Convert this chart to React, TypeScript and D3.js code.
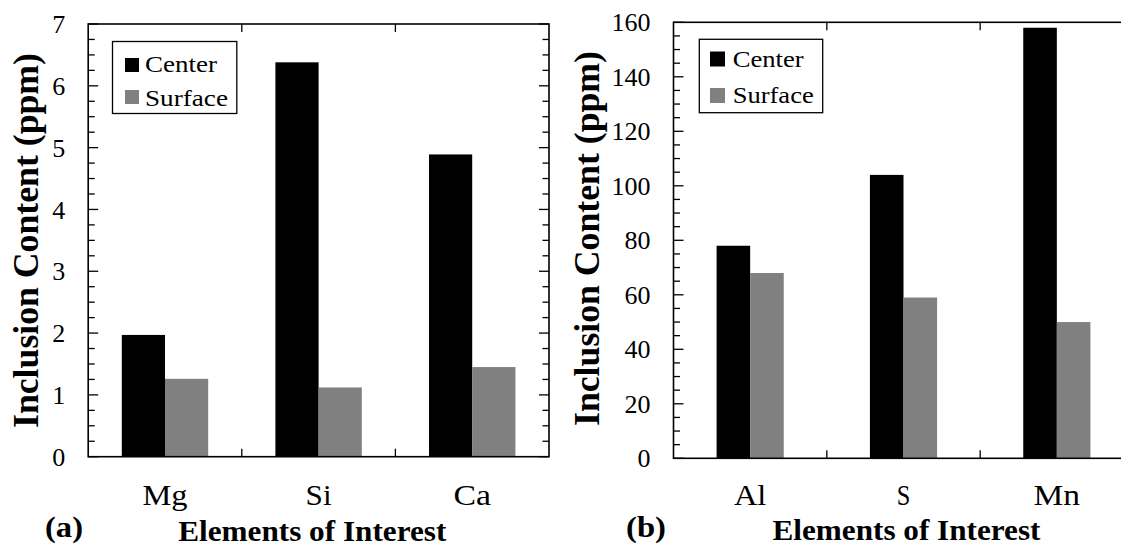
import React from "react";
import * as d3 from "d3";

// Panel (a): light elements
const elementsA = ["Mg", "Si", "Ca"];
const centerA = [1.97, 6.38, 4.89];
const surfaceA = [1.26, 1.12, 1.45];
const ticksA = [0, 1, 2, 3, 4, 5, 6, 7];

// Panel (b): heavier elements
const elementsB = ["Al", "S", "Mn"];
const centerB = [78, 104, 158];
const surfaceB = [68, 59, 50];
const ticksB = [0, 20, 40, 60, 80, 100, 120, 140, 160];

const seriesNames = ["Center", "Surface"];
const seriesColors = ["#000000", "#808080"];

const SERIF = "Liberation Serif, Times New Roman, Times, serif";

type PanelProps = {
  tag: string;
  categories: string[];
  center: number[];
  surface: number[];
  ticks: number[];
  yMax: number;
  minorStep: number;
  x0: number;
  x1: number;
  yTop: number;
  yBottom: number;
  groupFrac: number;
  labelWidths: number[];
  legend: {
    x: number; y: number; w: number; h: number;
    swX: number; swSize: number; swY: number[];
    textX: number; baseY: number[]; textW: number[];
  };
  yTitleX: number;
  yTitleY: number;
  tagX: number;
  tagW: number;
  xTitleX: number;
  xTitleBase: number;
};

function Panel(p: PanelProps) {
  const x = d3.scaleBand<string>().domain(p.categories).range([p.x0, p.x1]).padding(0);
  const bw = x.bandwidth();
  const off = (bw * (1 - p.groupFrac)) / 2;
  const xs = d3.scaleBand<string>().domain(seriesNames).range([off, bw - off]).padding(0);
  const y = d3.scaleLinear().domain([0, p.yMax]).range([p.yBottom, p.yTop]);
  const minor = d3.range(0, p.yMax + 1e-9, p.minorStep);
  const series = [p.center, p.surface];
  const boundaries = p.categories.slice(1).map((c) => x(c) as number);

  return (
    <g>
      {/* bars */}
      {p.categories.map((c, i) => (
        <g key={c} transform={`translate(${x(c)},0)`}>
          {seriesNames.map((s, k) => (
            <rect
              key={s}
              x={xs(s)}
              y={y(series[k][i])}
              width={xs.bandwidth()}
              height={y(0) - y(series[k][i])}
              fill={seriesColors[k]}
            />
          ))}
        </g>
      ))}
      {/* frame */}
      <rect x={p.x0} y={p.yTop} width={p.x1 - p.x0} height={p.yBottom - p.yTop}
        fill="none" stroke="#000" strokeWidth={1.6} />
      {/* y ticks on both sides, pointing inward */}
      {minor.map((v) => {
        const major = p.ticks.includes(Math.round(v * 1000) / 1000);
        const len = major ? 10 : 6.5;
        return (
          <g key={v}>
            <line x1={p.x0} x2={p.x0 + len} y1={y(v)} y2={y(v)} stroke="#000" strokeWidth={1.3} />
            <line x1={p.x1} x2={p.x1 - len} y1={y(v)} y2={y(v)} stroke="#000" strokeWidth={1.3} />
          </g>
        );
      })}
      {/* category boundary ticks */}
      {boundaries.map((bx) => (
        <g key={bx}>
          <line x1={bx} x2={bx} y1={p.yBottom} y2={p.yBottom - 8} stroke="#000" strokeWidth={1.3} />
          <line x1={bx} x2={bx} y1={p.yTop} y2={p.yTop + 8} stroke="#000" strokeWidth={1.3} />
        </g>
      ))}
      {/* y tick labels */}
      {p.ticks.map((t) => (
        <text key={t} x={p.x0 - 23} y={y(t)} dy="0.35em" textAnchor="end"
          fontFamily={SERIF} fontSize={26} fill="#000">{t}</text>
      ))}
      {/* category labels */}
      {p.categories.map((c, i) => (
        <text key={c} x={(x(c) as number) + bw / 2 - p.labelWidths[i] / 2} y={505}
          textLength={p.labelWidths[i]} lengthAdjust="spacingAndGlyphs"
          fontFamily={SERIF} fontSize={29} fill="#000">{c}</text>
      ))}
      {/* legend */}
      <rect x={p.legend.x} y={p.legend.y} width={p.legend.w} height={p.legend.h}
        fill="#fff" stroke="#000" strokeWidth={1.3} />
      {seriesNames.map((s, k) => (
        <g key={s}>
          <rect x={p.legend.swX} y={p.legend.swY[k]} width={p.legend.swSize} height={p.legend.swSize}
            fill={seriesColors[k]} />
          <text x={p.legend.textX} y={p.legend.baseY[k]} textLength={p.legend.textW[k]}
            lengthAdjust="spacingAndGlyphs" fontFamily={SERIF} fontSize={24} fill="#000">{s}</text>
        </g>
      ))}
      {/* axis titles */}
      <text transform={`translate(${p.yTitleX},${p.yTitleY}) rotate(-90)`} textAnchor="middle"
        textLength={375} lengthAdjust="spacingAndGlyphs"
        fontFamily={SERIF} fontWeight="bold" fontSize={35} fill="#000">Inclusion Content (ppm)</text>
      <text x={p.xTitleX} y={p.xTitleBase} textLength={268} lengthAdjust="spacingAndGlyphs"
        fontFamily={SERIF} fontWeight="bold" fontSize={29} fill="#000">Elements of Interest</text>
      <text x={p.tagX} y={537} textLength={p.tagW} lengthAdjust="spacingAndGlyphs"
        fontFamily={SERIF} fontWeight="bold" fontSize={30} fill="#000">{p.tag}</text>
    </g>
  );
}

export default function App() {
  return (
    <svg width={1121} height={546} style={{ position: "absolute", left: 0, top: 0, background: "#fff" }}>
      <rect width={1121} height={546} fill="#fff" />
      <Panel
        tag="(a)"
        categories={elementsA}
        center={centerA}
        surface={surfaceA}
        ticks={ticksA}
        yMax={7}
        minorStep={0.25}
        x0={88.2}
        x1={549}
        yTop={24}
        yBottom={456.7}
        groupFrac={0.5625}
        labelWidths={[45, 26, 37.5]}
        legend={{ x: 112.5, y: 41.5, w: 124.3, h: 72, swX: 125, swSize: 14, swY: [58, 90],
          textX: 145, baseY: [72, 106], textW: [72, 83] }}
        yTitleX={37.5}
        yTitleY={240.5}
        tagX={45}
        tagW={38}
        xTitleX={178.3}
        xTitleBase={541}
      />
      <Panel
        tag="(b)"
        categories={elementsB}
        center={centerB}
        surface={surfaceB}
        ticks={ticksB}
        yMax={160}
        minorStep={5}
        x0={673.5}
        x1={1133.5}
        yTop={22.3}
        yBottom={458.3}
        groupFrac={0.438}
        labelWidths={[32.4, 13.6, 46.5]}
        legend={{ x: 699.3, y: 39.3, w: 123.4, h: 73.4, swX: 710, swSize: 15, swY: [51.5, 88],
          textX: 732.7, baseY: [66.5, 102.7], textW: [71, 81] }}
        yTitleX={599.3}
        yTitleY={238.5}
        tagX={626}
        tagW={40}
        xTitleX={772.5}
        xTitleBase={540}
      />
    </svg>
  );
}
